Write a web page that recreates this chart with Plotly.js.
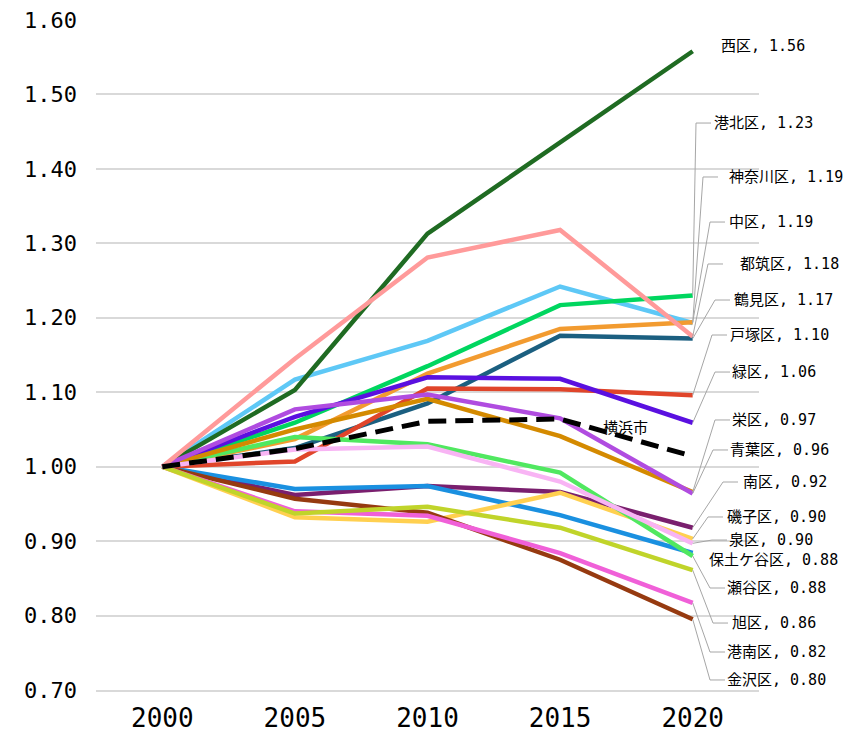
<!DOCTYPE html>
<html>
<head>
<meta charset="utf-8">
<script src="https://cdn.plot.ly/plotly-3.0.1.min.js"></script>
<style>
  html, body { margin:0; padding:0; background:#fff; }
  #chart { width:862px; height:732px; }
</style>
</head>
<body>
<div id="chart"></div>
<script>
// x categories
const years = ['2000', '2005', '2010', '2015', '2020'];

// index values (2000 = 1.00)
const tsurumi    = [1.00, 1.025, 1.085, 1.176, 1.172];
const kanagawa   = [1.00, 1.117, 1.169, 1.242, 1.193];
const nishi      = [1.00, 1.103, 1.313, 1.435, 1.558];
const naka       = [1.00, 1.037, 1.125, 1.185, 1.194];
const minami     = [1.00, 0.962, 0.974, 0.966, 0.918];
const hodogaya   = [1.00, 0.970, 0.974, 0.935, 0.884];
const isogo      = [1.00, 0.932, 0.926, 0.965, 0.903];
const kanazawa   = [1.00, 0.957, 0.938, 0.875, 0.795];
const kohoku     = [1.00, 1.059, 1.135, 1.217, 1.230];
const totsuka    = [1.00, 1.007, 1.105, 1.104, 1.096];
const konan      = [1.00, 0.940, 0.934, 0.884, 0.817];
const asahi      = [1.00, 0.937, 0.946, 0.918, 0.861];
const midori     = [1.00, 1.067, 1.120, 1.118, 1.059];
const seya       = [1.00, 1.040, 1.030, 0.992, 0.880];
const sakae      = [1.00, 1.050, 1.091, 1.041, 0.966];
const izumi      = [1.00, 1.023, 1.027, 0.980, 0.897];
const aoba       = [1.00, 1.077, 1.097, 1.065, 0.964];
const tsuzuki    = [1.00, 1.145, 1.281, 1.318, 1.175];
const yokohama   = [1.00, 1.024, 1.061, 1.064, 1.014];

const wardNames = ['鶴見区','神奈川区','西区','中区','南区','保土ケ谷区','磯子区','金沢区','港北区',
  '戸塚区','港南区','旭区','緑区','瀬谷区','栄区','泉区','青葉区','都筑区'];
const wardValues = [tsurumi, kanagawa, nishi, naka, minami, hodogaya, isogo, kanazawa, kohoku,
  totsuka, konan, asahi, midori, seya, sakae, izumi, aoba, tsuzuki];
const wardColors = ['#1b5f80','#5ec8f6','#1f6b22','#f29b30','#7a1f6e','#1a90e0','#ffd050','#963a10','#00d65f',
  '#e0452a','#f060d8','#c0d42a','#5a10e0','#50e860','#d48a00','#f8b4f4','#b04ce0','#ff9a9a'];

// label placement at the right side (pixels in the page): [labelX, labelY, elbowX or null]
const labelPlace = {
  '西区':[719,46,null], '港北区':[712,123,696], '神奈川区':[727,177,703], '中区':[727,222,710],
  '都筑区':[738,264,708], '鶴見区':[732,300,715], '戸塚区':[728,335,712], '緑区':[730,372,715],
  '栄区':[730,420,715], '青葉区':[728,450,713], '南区':[741,482,723], '磯子区':[725,517,708],
  '泉区':[727,540,712], '保土ケ谷区':[707,560,null], '瀬谷区':[725,588,710], '旭区':[730,623,713],
  '港南区':[725,652,710], '金沢区':[725,680,710]
};

const M = {l:96, r:103, t:20, b:42};
const W = 862, H = 732;
const yMin = 0.70, yMax = 1.60;
const plotH = H - M.t - M.b;
const lastFrac = 0.9; // centre of last category, in plot fraction
const lastX = M.l + (W - M.l - M.r) * lastFrac;
function pyOf(v){ return M.t + (yMax - v) / (yMax - yMin) * plotH; }

const mono = "'DejaVu Sans Mono', 'Noto Sans CJK JP', monospace";

const traces = wardNames.map((n, i) => ({
  type:'scatter', mode:'lines', name:n,
  x: years, y: wardValues[i],
  line:{color: wardColors[i], width:4.5},
  hoverinfo:'skip'
}));
traces.push({
  type:'scatter', mode:'lines', name:'横浜市',
  x: years, y: yokohama,
  line:{color:'#000', width:5, dash:'18px,9px'},
  hoverinfo:'skip'
});

const annotations = [];
const shapes = [];
const lastIdx = years.length - 1; // category axes take serial numbers here
wardNames.forEach((n, i) => {
  const v = wardValues[i][lastIdx];
  const p = labelPlace[n];
  const py = pyOf(v);
  annotations.push({
    x: lastIdx, y: v, xref:'x', yref:'y',
    text: n + ', ' + v.toFixed(2),
    showarrow:false, xanchor:'left', yanchor:'middle',
    xshift: p[0] - lastX, yshift: py - p[1],
    font:{family: mono, size:15, color:'#000'}
  });
  if (p[2] !== null) {
    const dx = p[2] - lastX, dy = py - p[1];
    shapes.push({
      type:'path', xref:'paper', yref:'y',
      xsizemode:'pixel', ysizemode:'pixel',
      xanchor: lastFrac, yanchor: v,
      path: `M0,0 L${dx.toFixed(1)},${dy.toFixed(1)} L${(dx + 15).toFixed(1)},${dy.toFixed(1)}`,
      line:{color:'#a6a6a6', width:1},
      layer:'above'
    });
  }
});
annotations.push({
  x: 3, y: yokohama[3], xref:'x', yref:'y',
  text:'横浜市', showarrow:false,
  xshift:65, yshift:-7,
  font:{family:"'Noto Sans CJK JP', sans-serif", size:15, color:'#000'}
});

const layout = {
  width: W, height: H,
  margin: M,
  paper_bgcolor:'#fff', plot_bgcolor:'#fff',
  showlegend:false,
  xaxis:{
    type:'category', categoryarray: years, range:[-0.5, 4.5], autorange:false,
    showgrid:false, zeroline:false, showline:true, linecolor:'#d9d9d9', linewidth:2,
    ticks:'', ticklabelstandoff:4,
    tickfont:{family: mono, size:26, color:'#000'}
  },
  yaxis:{
    range:[yMin, yMax], autorange:false, tick0:0.7, dtick:0.1, tickformat:'.2f',
    showgrid:true, gridcolor:'#d9d9d9', gridwidth:2,
    zeroline:false, showline:false, ticks:'',
    ticklabelstandoff:18,
    tickfont:{family: mono, size:22, color:'#000'}
  },
  annotations, shapes
};

Plotly.newPlot('chart', traces, layout, {displayModeBar:false, staticPlot:true});
</script>
</body>
</html>
